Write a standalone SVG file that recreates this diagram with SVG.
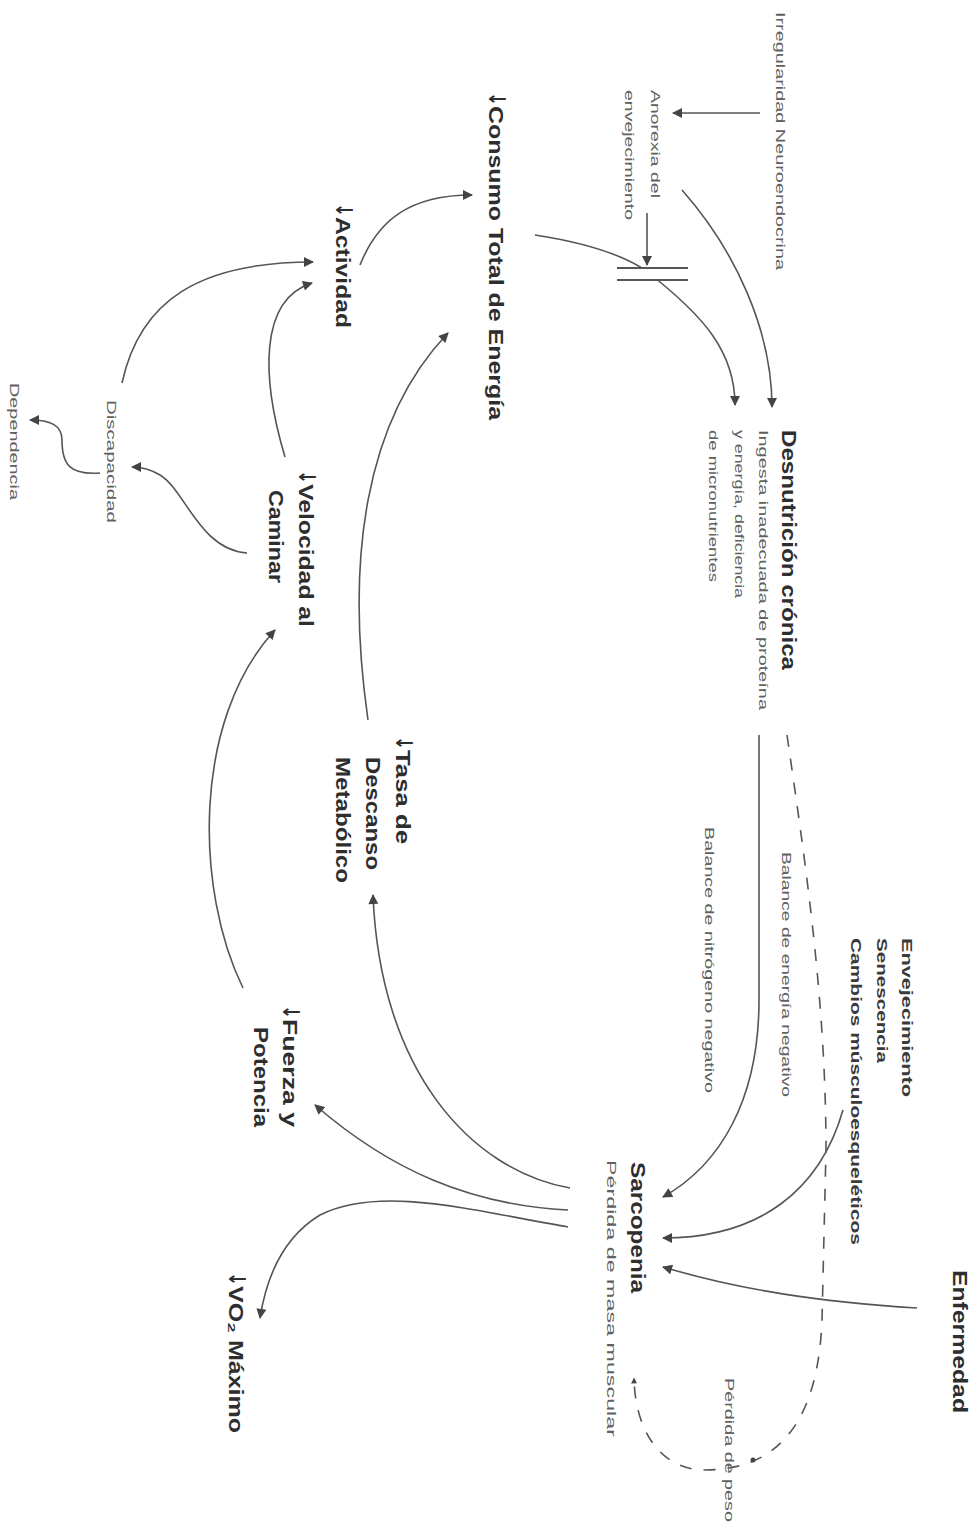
<svg xmlns="http://www.w3.org/2000/svg" width="977" height="1528" viewBox="0 0 977 1528">
<style>
text{font-family:"Liberation Sans",Arial,"DejaVu Sans",sans-serif}
.b{font-size:20px;font-weight:bold;fill:#2e2e2e}
.m{font-size:15px;font-weight:bold;fill:#3a3a3a}
.s{font-size:13px;fill:#606060}
.ar{font-family:"DejaVu Sans",sans-serif;font-weight:bold;font-size:23px}
.c{fill:none;stroke:#555;stroke-width:1.6}
.d{fill:none;stroke:#555;stroke-width:1.6;stroke-dasharray:12 12}
</style>
<defs>
<marker id="ah" viewBox="0 0 10 10" refX="9" refY="5" markerWidth="11" markerHeight="10" orient="auto" markerUnits="userSpaceOnUse"><path d="M0,0 L10,5 L0,10 z" fill="#444"/></marker>
<marker id="as" viewBox="0 0 10 10" refX="9" refY="5" markerWidth="7" markerHeight="6" orient="auto" markerUnits="userSpaceOnUse"><path d="M0,0 L10,5 L0,10 z" fill="#444"/></marker>
</defs>
<rect width="977" height="1528" fill="#fff"/>
<g id="connectors">
<path class="c" d="M760,113 L673,113" marker-end="url(#ah)"/>
<path class="c" d="M647,213 L647,265" marker-end="url(#ah)"/>
<path class="c" d="M535,235 C600,245 640,262 660,282 C700,315 735,350 735,405" marker-end="url(#ah)"/>
<path class="c" d="M682,190 C735,250 772,330 772,407" marker-end="url(#ah)"/>
<path class="c" d="M759,735 L759,1000 C759,1100 720,1165 663,1197" marker-end="url(#ah)"/>
<path class="d" d="M787,735 C805,860 826,1000 826,1150 L822,1320 C818,1420 780,1470 705,1470 C660,1470 635,1430 634,1378" marker-end="url(#as)"/>
<circle cx="753" cy="1460" r="2.5" fill="#444"/>
<path class="c" d="M843,1110 C820,1190 760,1238 663,1238" marker-end="url(#ah)"/>
<path class="c" d="M917,1308 C820,1302 740,1290 663,1267" marker-end="url(#ah)"/>
<path class="c" d="M570,1188 C470,1170 380,1070 373,895" marker-end="url(#ah)"/>
<path class="c" d="M568,1210 C470,1205 390,1170 315,1105" marker-end="url(#ah)"/>
<path class="c" d="M568,1227 C470,1210 380,1185 320,1215 C282,1238 266,1280 260,1318" marker-end="url(#ah)"/>
<path class="c" d="M243,988 C195,890 192,720 275,630" marker-end="url(#ah)"/>
<path class="c" d="M368,720 C345,560 365,420 448,333" marker-end="url(#ah)"/>
<path class="c" d="M360,265 C378,220 410,195 472,195" marker-end="url(#ah)"/>
<path class="c" d="M285,457 C262,380 258,300 312,283" marker-end="url(#ah)"/>
<path class="c" d="M122,383 C140,300 200,262 313,262" marker-end="url(#ah)"/>
<path class="c" d="M247,553 C200,550 185,490 160,475 C150,469 142,467 132,467" marker-end="url(#ah)"/>
<path class="c" d="M100,473 C70,475 62,465 62,440 C62,425 50,420 30,420" marker-end="url(#ah)"/>
<rect x="617" y="269" width="71" height="10" fill="#fff"/>
<path d="M617,268 L688,268 M617,280 L688,280" stroke="#555" stroke-width="2.2" fill="none"/>
</g>
<g id="irregularidad"><text class="s" transform="translate(776,12) rotate(90)" textLength="258" lengthAdjust="spacingAndGlyphs">Irregularidad Neuroendocrina</text></g>
<g id="anorexia">
<text class="s" transform="translate(651,90) rotate(90)" textLength="108" lengthAdjust="spacingAndGlyphs">Anorexia del</text>
<text class="s" transform="translate(625,90) rotate(90)" textLength="130" lengthAdjust="spacingAndGlyphs">envejecimiento</text>
</g>
<g id="desnutricion">
<text class="b" transform="translate(782,430) rotate(90)" textLength="240" lengthAdjust="spacingAndGlyphs">Desnutrición crónica</text>
<text class="s" transform="translate(759,430) rotate(90)" textLength="280" lengthAdjust="spacingAndGlyphs">Ingesta inadecuada de proteína</text>
<text class="s" transform="translate(735,430) rotate(90)" textLength="168" lengthAdjust="spacingAndGlyphs">y energía, deficiencia</text>
<text class="s" transform="translate(709,430) rotate(90)" textLength="152" lengthAdjust="spacingAndGlyphs">de micronutrientes</text>
</g>
<g id="balance-energia"><text class="s" transform="translate(782,852) rotate(90)" textLength="245" lengthAdjust="spacingAndGlyphs">Balance de energía negativo</text></g>
<g id="balance-nitrogeno"><text class="s" transform="translate(705,827) rotate(90)" textLength="266" lengthAdjust="spacingAndGlyphs">Balance de nitrógeno negativo</text></g>
<g id="envejecimiento">
<text class="m" transform="translate(902,938) rotate(90)" textLength="159" lengthAdjust="spacingAndGlyphs">Envejecimiento</text>
<text class="m" transform="translate(877,938) rotate(90)" textLength="125" lengthAdjust="spacingAndGlyphs">Senescencia</text>
<text class="m" transform="translate(851,938) rotate(90)" textLength="307" lengthAdjust="spacingAndGlyphs">Cambios músculoesqueléticos</text>
</g>
<g id="enfermedad"><text class="b" transform="translate(953,1270) rotate(90)" textLength="143" lengthAdjust="spacingAndGlyphs">Enfermedad</text></g>
<g id="perdida-peso"><text class="s" transform="translate(725,1378) rotate(90)" textLength="144" lengthAdjust="spacingAndGlyphs">Pérdida de peso</text></g>
<g id="sarcopenia">
<text class="b" transform="translate(631,1162) rotate(90)" textLength="131" lengthAdjust="spacingAndGlyphs">Sarcopenia</text>
<text class="s" transform="translate(607,1160) rotate(90)" textLength="277" lengthAdjust="spacingAndGlyphs">Pérdida de masa muscular</text>
</g>
<g id="consumo"><text class="b" transform="translate(489,92) rotate(90)"><tspan class="ar" textLength="14" lengthAdjust="spacingAndGlyphs">↓</tspan><tspan textLength="314" lengthAdjust="spacingAndGlyphs">Consumo Total de Energía</tspan></text></g>
<g id="actividad"><text class="b" transform="translate(336,203) rotate(90)"><tspan class="ar" textLength="14" lengthAdjust="spacingAndGlyphs">↓</tspan><tspan textLength="111" lengthAdjust="spacingAndGlyphs">Actividad</tspan></text></g>
<g id="velocidad">
<text class="b" transform="translate(299,470) rotate(90)"><tspan class="ar" textLength="14" lengthAdjust="spacingAndGlyphs">↓</tspan><tspan textLength="143" lengthAdjust="spacingAndGlyphs">Velocidad al</tspan></text>
<text class="b" transform="translate(269,490) rotate(90)" textLength="93" lengthAdjust="spacingAndGlyphs">Caminar</text>
</g>
<g id="tasa">
<text class="b" transform="translate(396,736) rotate(90)"><tspan class="ar" textLength="14" lengthAdjust="spacingAndGlyphs">↓</tspan><tspan textLength="94" lengthAdjust="spacingAndGlyphs">Tasa de</tspan></text>
<text class="b" transform="translate(366,757) rotate(90)" textLength="113" lengthAdjust="spacingAndGlyphs">Descanso</text>
<text class="b" transform="translate(336,757) rotate(90)" textLength="126" lengthAdjust="spacingAndGlyphs">Metabólico</text>
</g>
<g id="fuerza">
<text class="b" transform="translate(283,1005) rotate(90)"><tspan class="ar" textLength="14" lengthAdjust="spacingAndGlyphs">↓</tspan><tspan textLength="108" lengthAdjust="spacingAndGlyphs">Fuerza y</tspan></text>
<text class="b" transform="translate(254,1027) rotate(90)" textLength="100" lengthAdjust="spacingAndGlyphs">Potencia</text>
</g>
<g id="vo2"><text class="b" transform="translate(229,1272) rotate(90)"><tspan class="ar" textLength="14" lengthAdjust="spacingAndGlyphs">↓</tspan><tspan textLength="147" lengthAdjust="spacingAndGlyphs">VO₂ Máximo</tspan></text></g>
<g id="discapacidad"><text class="s" transform="translate(107,400) rotate(90)" textLength="123" lengthAdjust="spacingAndGlyphs">Discapacidad</text></g>
<g id="dependencia"><text class="s" transform="translate(10,383) rotate(90)" textLength="117" lengthAdjust="spacingAndGlyphs">Dependencia</text></g>
</svg>
